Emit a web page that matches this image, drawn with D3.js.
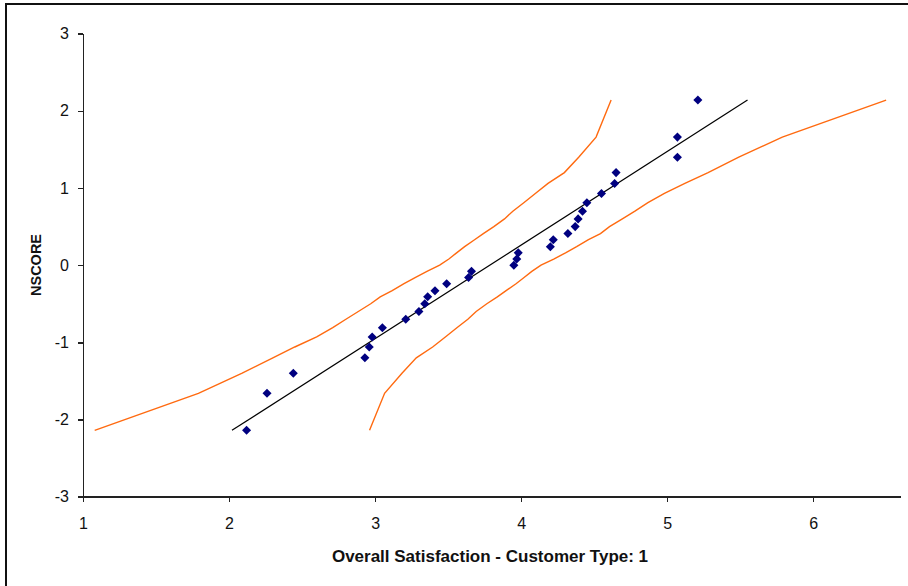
<!DOCTYPE html>
<html>
<head>
<meta charset="utf-8">
<script src="https://cdn.jsdelivr.net/npm/d3@7"></script>
<style>
  body { margin: 0; background: #fff; }
  svg { display: block; font-family: "Liberation Sans", Arial, sans-serif; }
  .axis path, .axis line { stroke: #222; stroke-width: 1.5; shape-rendering: crispEdges; }
  .axis text { font-size: 16px; fill: #111; }
  .title { font-weight: bold; fill: #111; }
</style>
</head>
<body>
<script>
"use strict";

var width = 908;
var height = 586;

// Observed values (sorted) and their normal scores
var satisfaction = [2.12, 2.26, 2.44, 2.93, 2.96, 2.98, 3.05, 3.21, 3.30, 3.34, 3.36, 3.41, 3.49, 3.64, 3.66,
    3.95, 3.97, 3.98, 4.20, 4.22, 4.32, 4.37, 4.39, 4.42, 4.45, 4.55, 4.64, 4.65, 5.07, 5.07, 5.21];
var nscore = [-2.14, -1.66, -1.40, -1.20, -1.06, -0.93, -0.81, -0.70, -0.60, -0.50, -0.41, -0.33, -0.24, -0.16, -0.08,
    0, 0.08, 0.16, 0.24, 0.33, 0.41, 0.50, 0.60, 0.70, 0.81, 0.93, 1.06, 1.20, 1.40, 1.66, 2.14];

// Confidence band x positions at each normal score
var upperBand = [1.08, 1.79, 2.09, 2.30, 2.45, 2.60, 2.71, 2.80, 2.885, 2.97, 3.035, 3.117, 3.198, 3.274, 3.355,
    3.442, 3.505, 3.558, 3.613, 3.681, 3.741, 3.813, 3.886, 3.943, 4.018, 4.097, 4.184, 4.296, 4.394, 4.513, 4.616];
var lowerBand = [2.962, 3.065, 3.184, 3.282, 3.394, 3.481, 3.560, 3.635, 3.692, 3.765, 3.837, 3.897, 3.965, 4.020, 4.073,
    4.136, 4.223, 4.304, 4.380, 4.461, 4.543, 4.605, 4.693, 4.779, 4.868, 4.981, 5.121, 5.280, 5.490, 5.788, 6.499];

// Fitted line end points
var fitX = [2.02, 5.55];
var fitY = [-2.14, 2.14];

var xTicks = [1, 2, 3, 4, 5, 6];
var yTicks = [-3, -2, -1, 0, 1, 2, 3];

var x = d3.scaleLinear().domain([1, 6.594]).range([83, 900]);
var y = d3.scaleLinear().domain([-3, 3]).range([496.7, 33.7]);

var svg = d3.select("body").append("svg")
    .attr("width", width)
    .attr("height", height);

svg.append("rect")
    .attr("width", width)
    .attr("height", height)
    .attr("fill", "#fff");

// Outer chart border (cut off at right and bottom)
svg.append("rect")
    .attr("x", 6)
    .attr("y", 4)
    .attr("width", 960)
    .attr("height", 640)
    .attr("fill", "none")
    .attr("stroke", "#111")
    .attr("stroke-width", 2);

// plain hyphen for negatives, like the original
var fmt = function(d) { return String(d); };

svg.append("g")
    .attr("class", "axis")
    .attr("transform", "translate(0," + y(-3) + ")")
    .call(d3.axisBottom(x).tickValues(xTicks).tickSize(5).tickSizeOuter(0).tickPadding(16).tickFormat(fmt));

svg.append("g")
    .attr("class", "axis")
    .attr("transform", "translate(" + x(1) + ",0)")
    .call(d3.axisLeft(y).tickValues(yTicks).tickSize(5).tickSizeOuter(0).tickPadding(9).tickFormat(fmt));

var line = d3.line()
    .x(function(d) { return x(d[0]); })
    .y(function(d) { return y(d[1]); });

// Confidence bands
[upperBand, lowerBand].forEach(function(band) {
    svg.append("path")
        .datum(band.map(function(v, i) { return [v, nscore[i]]; }))
        .attr("fill", "none")
        .attr("stroke", "#ff6a10")
        .attr("stroke-width", 1.4)
        .attr("d", line);
});

// Fitted line
svg.append("path")
    .datum(fitX.map(function(v, i) { return [v, fitY[i]]; }))
    .attr("fill", "none")
    .attr("stroke", "#000")
    .attr("stroke-width", 1.2)
    .attr("d", line);

// Points
svg.append("g").selectAll("path")
    .data(satisfaction)
    .enter().append("path")
    .attr("d", d3.symbol(d3.symbolSquare, 41))
    .attr("fill", "#000080")
    .attr("transform", function(d, i) {
        return "translate(" + x(d) + "," + y(nscore[i]) + ") rotate(45)";
    });

svg.append("text")
    .attr("class", "title")
    .attr("x", 490)
    .attr("y", 562)
    .attr("text-anchor", "middle")
    .style("font-size", "17px")
    .text("Overall Satisfaction - Customer Type: 1");

svg.append("text")
    .attr("class", "title")
    .attr("transform", "translate(41,265) rotate(-90)")
    .attr("text-anchor", "middle")
    .style("font-size", "14.5px")
    .text("NSCORE");
</script>
</body>
</html>
